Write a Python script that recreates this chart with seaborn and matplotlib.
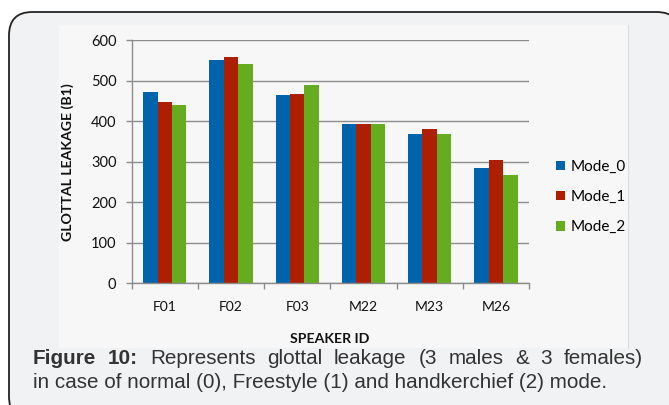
import pandas as pd
import matplotlib
matplotlib.use("Agg")
import matplotlib.pyplot as plt
import seaborn as sns
from matplotlib.patches import FancyBboxPatch, Rectangle

# data
speakers = ["F01", "F02", "F03", "M22", "M23", "M26"]
mode_0 = [471, 551, 465, 394, 367, 284]
mode_1 = [446, 559, 468, 394, 381, 303]
mode_2 = [440, 540, 490, 394, 369, 268]
modes = ["Mode_0", "Mode_1", "Mode_2"]
colors = ["#0064AC", "#AE1E00", "#66AC1F"]

df = pd.DataFrame({"Speaker": speakers * 3,
                   "Mode": [m for m in modes for _ in speakers],
                   "Value": mode_0 + mode_1 + mode_2})

W, H = 669, 405
fig = plt.figure(figsize=(W / 100, H / 100), dpi=100)
fig.patch.set_facecolor("white")

def fx(px):
    return px / W

def fy(py):
    return 1 - py / H

# outer rounded panel and inner chart box
panel = FancyBboxPatch((fx(9), fy(420)), fx(680 - 9), (420 - 12) / H,
                       boxstyle="round,pad=0,rounding_size=0.035",
                       transform=fig.transFigure, facecolor="#f1f2f3",
                       edgecolor="#222222", linewidth=1.3, mutation_aspect=W / H,
                       zorder=-3)
fig.patches.append(panel)
inner = Rectangle((fx(59), fy(348)), fx(628 - 59), (348 - 25) / H,
                  transform=fig.transFigure, facecolor="#f7f7f7",
                  edgecolor="none", zorder=-2)
fig.patches.append(inner)
fig.add_artist(plt.Line2D([fx(628), fx(628)], [fy(25), fy(348)],
                          transform=fig.transFigure, color="#dcdcdc", lw=0.8,
                          zorder=-1))

ax = fig.add_axes([fx(131.7), fy(283.3), fx(529 - 131.7), (283.3 - 40) / H])
sns.barplot(data=df, x="Speaker", y="Value", hue="Mode", palette=colors,
            width=0.655, gap=0, saturation=1, ax=ax, legend=False)
for p in ax.patches:
    p.set_edgecolor("none")

ax.set_facecolor("none")
ax.set_ylim(0, 600)
ax.set_yticks(range(0, 601, 100))
ax.set_xlim(-0.5, 5.5)
ax.yaxis.grid(True, color="#8c8c8c", linewidth=1)
ax.set_axisbelow(True)
for s in ["top", "right"]:
    ax.spines[s].set_visible(False)
for s in ["left", "bottom"]:
    ax.spines[s].set_color("#8c8c8c")
    ax.spines[s].set_linewidth(1)

ax.set_xticks([i + 0.5 for i in range(-1, 6)], minor=True)
ax.tick_params(axis="x", which="major", length=0, pad=13,
               labelsize=10, labelcolor="#111111")
ax.tick_params(axis="x", which="minor", length=4, color="#8c8c8c", width=1)
ax.tick_params(axis="y", length=4, color="#8c8c8c", width=1, pad=7,
               labelsize=10.5, labelcolor="#111111")
for lab in ax.get_xticklabels() + ax.get_yticklabels():
    lab.set_fontfamily("Lato")

ax.set_xlabel("SPEAKER ID", fontsize=10.2, fontweight="bold",
              fontfamily="Lato", color="#111111")
ax.set_ylabel("GLOTTAL LEAKAGE (B1)", fontsize=10.2, fontweight="bold",
              fontfamily="Lato", color="#111111")
ax.xaxis.set_label_coords(0.499, -0.205)
ax.yaxis.set_label_coords(-0.144, 0.5)

handles = [Rectangle((0, 0), 1, 1, facecolor=c, edgecolor="none") for c in colors]
fig.legend(handles, modes, loc="center left",
           bbox_to_anchor=(fx(542), fy(197)), frameon=False,
           handlelength=0.6, handleheight=0.6, handletextpad=0.35,
           labelspacing=1.05, prop={"family": "Lato", "size": 11})

# caption, first line justified
renderer = fig.canvas.get_renderer()
cap_font = {"family": "Liberation Sans", "size": 14.85, "color": "#333333"}

def justify(words, x0, x1, y):
    texts = []
    for w, bold in words:
        t = fig.text(0, fy(y), w, fontweight="bold" if bold else "normal",
                     va="center", ha="left", **cap_font)
        texts.append(t)
    widths = [t.get_window_extent(renderer).width for t in texts]
    gap = (x1 - x0 - sum(widths)) / (len(words) - 1)
    x = x0
    for t, w in zip(texts, widths):
        t.set_x(fx(x))
        x += w + gap

line1 = [("Figure", True), ("10:", True)] + \
    [(w, False) for w in "Represents glottal leakage (3 males & 3 females)".split()]
justify(line1, 33, 643, 358)
fig.text(fx(33), fy(383), "in case of normal (0), Freestyle (1) and handkerchief (2) mode.",
         va="center", ha="left", **cap_font)

fig.savefig("out.png", dpi=100)
